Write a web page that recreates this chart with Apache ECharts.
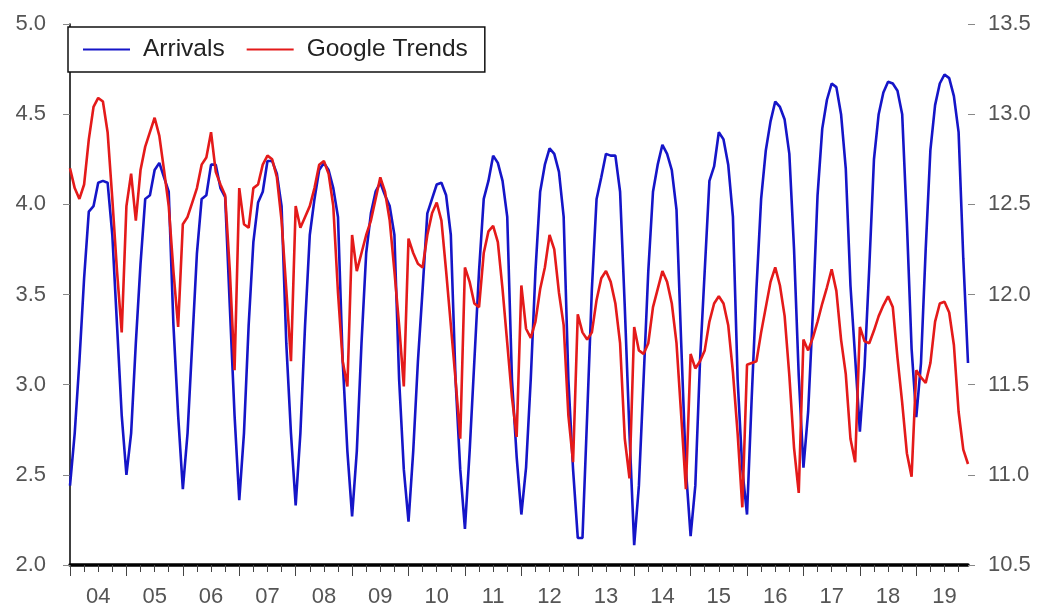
<!DOCTYPE html>
<html><head><meta charset="utf-8">
<script src="https://cdn.jsdelivr.net/npm/echarts@6/dist/echarts.min.js"></script>
<style>html,body{margin:0;padding:0;background:#fff}#c{width:1041px;height:613px}</style>
</head><body><div id="c"></div>
<script>
// Year tick labels (one per year, 2004-2019)
const yearLabels = ['04','05','06','07','08','09','10','11','12','13','14','15','16','17','18','19'];
const yearNumbers = [2004,2005,2006,2007,2008,2009,2010,2011,2012,2013,2014,2015,2016,2017,2018,2019];
const monthNumbers = ['01','02','03','04','05','06','07','08','09','10','11','12'];

// Arrivals (right axis, log scale), monthly Jan 2004 - Dec 2019
const arrivals = [
  10.94, 11.23, 11.63, 12.09, 12.46, 12.49, 12.62, 12.63, 12.62, 12.33, 11.83, 11.33,
  11.00, 11.23, 11.73, 12.17, 12.53, 12.55, 12.69, 12.73, 12.65, 12.57, 11.83, 11.33,
  10.92, 11.23, 11.73, 12.23, 12.53, 12.55, 12.72, 12.72, 12.59, 12.54, 11.93, 11.33,
  10.86, 11.23, 11.83, 12.29, 12.51, 12.57, 12.74, 12.74, 12.67, 12.49, 11.73, 11.23,
  10.83, 11.23, 11.83, 12.33, 12.53, 12.69, 12.73, 12.69, 12.59, 12.43, 11.63, 11.13,
  10.77, 11.13, 11.73, 12.23, 12.45, 12.57, 12.62, 12.55, 12.49, 12.33, 11.53, 11.03,
  10.74, 11.13, 11.63, 12.03, 12.45, 12.53, 12.61, 12.62, 12.55, 12.33, 11.53, 11.03,
  10.70, 11.13, 11.63, 12.13, 12.53, 12.63, 12.77, 12.73, 12.63, 12.43, 11.53, 11.10,
  10.78, 11.04, 11.53, 12.13, 12.57, 12.72, 12.81, 12.78, 12.68, 12.43, 11.53, 11.03,
  10.65, 10.65, 11.33, 12.03, 12.53, 12.65, 12.78, 12.77, 12.77, 12.57, 11.93, 11.23,
  10.61, 10.94, 11.53, 12.13, 12.57, 12.72, 12.83, 12.78, 12.69, 12.47, 11.73, 11.03,
  10.66, 10.94, 11.63, 12.13, 12.63, 12.71, 12.90, 12.86, 12.72, 12.43, 11.53, 11.03,
  10.78, 11.43, 12.03, 12.53, 12.80, 12.96, 13.07, 13.04, 12.97, 12.78, 12.25, 11.55,
  11.04, 11.35, 11.90, 12.55, 12.92, 13.08, 13.17, 13.15, 13.00, 12.70, 12.05, 11.65,
  11.24, 11.60, 12.15, 12.75, 13.00, 13.12, 13.18, 13.17, 13.13, 13.00, 12.40, 11.70,
  11.32, 11.62, 12.25, 12.80, 13.05, 13.17, 13.22, 13.20, 13.10, 12.90, 12.20, 11.62
];

// Google Trends (left axis, log scale), monthly Jan 2004 - Dec 2019
const googleTrends = [
  4.20, 4.09, 4.03, 4.11, 4.36, 4.54, 4.59, 4.57, 4.40, 4.03, 3.63, 3.29,
  3.99, 4.17, 3.91, 4.19, 4.32, 4.40, 4.48, 4.38, 4.19, 3.99, 3.63, 3.32,
  3.89, 3.93, 4.01, 4.09, 4.22, 4.26, 4.40, 4.18, 4.11, 4.05, 3.63, 3.08,
  4.09, 3.89, 3.87, 4.09, 4.11, 4.22, 4.27, 4.25, 4.15, 3.91, 3.53, 3.13,
  3.99, 3.87, 3.93, 3.99, 4.09, 4.22, 4.24, 4.17, 3.99, 3.51, 3.13, 2.99,
  3.83, 3.63, 3.73, 3.83, 3.91, 4.03, 4.15, 4.07, 3.91, 3.63, 3.33, 2.99,
  3.81, 3.73, 3.67, 3.65, 3.83, 3.95, 4.01, 3.91, 3.63, 3.33, 3.03, 2.70,
  3.65, 3.57, 3.45, 3.43, 3.73, 3.85, 3.88, 3.79, 3.53, 3.23, 2.93, 2.71,
  3.55, 3.31, 3.26, 3.35, 3.53, 3.65, 3.83, 3.75, 3.51, 3.33, 2.83, 2.57,
  3.39, 3.29, 3.25, 3.29, 3.47, 3.59, 3.63, 3.57, 3.45, 3.23, 2.70, 2.48,
  3.32, 3.19, 3.17, 3.23, 3.43, 3.53, 3.63, 3.57, 3.45, 3.23, 2.83, 2.42,
  3.17, 3.09, 3.13, 3.19, 3.35, 3.45, 3.49, 3.45, 3.33, 3.07, 2.73, 2.32,
  3.11, 3.12, 3.13, 3.29, 3.43, 3.57, 3.65, 3.55, 3.38, 3.05, 2.65, 2.40,
  3.25, 3.19, 3.26, 3.35, 3.45, 3.54, 3.64, 3.52, 3.25, 3.06, 2.70, 2.57,
  3.32, 3.24, 3.23, 3.30, 3.38, 3.44, 3.49, 3.43, 3.15, 2.90, 2.62, 2.49,
  3.08, 3.04, 3.01, 3.12, 3.35, 3.45, 3.46, 3.40, 3.22, 2.85, 2.64, 2.56
];

const months = [];
yearNumbers.forEach(y => monthNumbers.forEach(m => months.push(y + '-' + m)));

const FONT = 'Liberation Sans, Arial, sans-serif';
const chart = echarts.init(document.getElementById('c'), null, {renderer: 'canvas'});
chart.setOption({
  animation: false,
  backgroundColor: '#fff',
  grid: {left: 70, right: 73, top: 24, bottom: 48, containLabel: false},
  legend: {
    left: 68, top: 27,
    orient: 'horizontal',
    backgroundColor: '#fff',
    borderColor: '#111', borderWidth: 1.5, borderRadius: 0,
    padding: [10, 17, 10, 15],
    itemGap: 22, itemWidth: 47, itemHeight: 2,
    icon: 'rect',
    textStyle: {fontFamily: FONT, fontSize: 24.5, color: '#222', padding: [0, 0, 0, 8]},
    data: ['Arrivals', 'Google Trends']
  },
  xAxis: [{
    type: 'category', data: months, boundaryGap: false, gridIndex: 0,
    axisLine: {show: true, lineStyle: {color: '#000', width: 3.5}},
    axisTick: {show: true, length: 7, interval: (i) => i % 3 === 0, lineStyle: {color: '#444', width: 1}},
    axisLabel: {
      show: true, interval: (i) => i % 12 === 6, margin: 21,
      fontFamily: FONT, fontSize: 22, color: '#555',
      formatter: (v) => yearLabels[yearNumbers.indexOf(+v.slice(0, 4))]
    },
    splitLine: {show: false}
  }, {
    type: 'category', data: months, boundaryGap: false, gridIndex: 0, position: 'bottom',
    axisLine: {show: false},
    axisTick: {show: true, length: 11, interval: (i) => i % 12 === 0, lineStyle: {color: '#444', width: 1}},
    axisLabel: {show: false},
    splitLine: {show: false}
  }],
  yAxis: [{
    type: 'value', min: 2.0, max: 5.0, interval: 0.5, position: 'left',
    axisLine: {show: true, lineStyle: {color: '#000', width: 1.5}},
    axisTick: {show: true, length: 7, lineStyle: {color: '#888'}},
    axisLabel: {fontFamily: FONT, fontSize: 22, color: '#555', margin: 24, formatter: (v) => v.toFixed(1)},
    splitLine: {show: false}
  }, {
    type: 'value', min: 10.5, max: 13.5, interval: 0.5, position: 'right',
    axisLine: {show: false},
    axisTick: {show: true, length: 7, lineStyle: {color: '#888'}},
    axisLabel: {fontFamily: FONT, fontSize: 22, color: '#555', margin: 20, formatter: (v) => v.toFixed(1)},
    splitLine: {show: false}
  }],
  series: [{
    name: 'Arrivals', type: 'line', yAxisIndex: 1, xAxisIndex: 0,
    data: arrivals, showSymbol: false, symbol: 'none',
    lineStyle: {color: '#1515c8', width: 2.6}, itemStyle: {color: '#1515c8'}
  }, {
    name: 'Google Trends', type: 'line', yAxisIndex: 0, xAxisIndex: 0,
    data: googleTrends, showSymbol: false, symbol: 'none',
    lineStyle: {color: '#e41a1a', width: 2.6}, itemStyle: {color: '#e41a1a'}
  }]
});
</script></body></html>
